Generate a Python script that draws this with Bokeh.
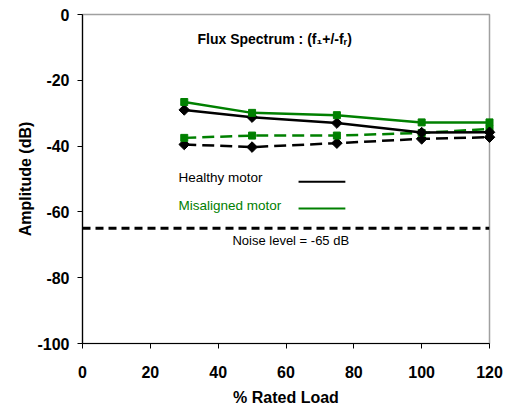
import math
from bokeh.plotting import figure
from bokeh.models import Label, Span, FixedTicker, ColumnDataSource, CustomJSTickFormatter
from bokeh.embed import file_html
from bokeh.resources import INLINE

# Load points (% of rated load)
load = [30, 50, 75, 100, 120]

# Amplitude of the (f1 +/- fr) flux components, dB
healthy_lower = [-29, -31.2, -33, -35.9, -35.8]
healthy_upper = [-39.5, -40.3, -39.1, -37.8, -37.3]
misaligned_lower = [-26.6, -29.9, -30.6, -32.8, -32.8]
misaligned_upper = [-37.5, -36.8, -36.8, -36.0, -34.8]

noise_level = -65

x_ticks = [0, 20, 40, 60, 80, 100, 120]
y_ticks = [0, -20, -40, -60, -80, -100]

FONT = "Liberation Sans"
GREEN = "#008000"

p = figure(width=506, height=409, output_backend="svg", toolbar_location=None,
           x_range=(0, 120), y_range=(-100, 0),
           min_border_left=82, min_border_right=17,
           min_border_top=14, min_border_bottom=66)

p.grid.visible = False
p.outline_line_color = "#a0a0a0"
p.outline_line_width = 1.5
p.background_fill_color = "white"
p.border_fill_color = "white"

plain_minus = CustomJSTickFormatter(code="return tick.toString();")

for ax in (p.xaxis[0], p.yaxis[0]):
    ax.formatter = plain_minus
    ax.major_label_text_font = FONT
    ax.major_label_text_font_style = "bold"
    ax.major_label_text_font_size = "16px"
    ax.major_label_text_color = "black"
    ax.axis_label_text_font = FONT
    ax.axis_label_text_font_style = "bold"
    ax.axis_label_text_font_size = "16px"
    ax.axis_label_text_color = "black"
    ax.axis_line_color = "black"
    ax.axis_line_width = 1.2
    ax.major_tick_line_color = "black"
    ax.major_tick_out = 5
    ax.major_tick_in = 0
    ax.minor_tick_line_color = None

p.xaxis.ticker = FixedTicker(ticks=x_ticks)
p.yaxis.ticker = FixedTicker(ticks=y_ticks)
p.xaxis.axis_label = "% Rated Load"
p.yaxis.axis_label = "Amplitude (dB)"
p.xaxis.major_label_standoff = 17
p.xaxis.axis_label_standoff = 8
p.yaxis.major_label_standoff = 8
p.yaxis.axis_label_standoff = 0

# Noise floor
p.add_layout(Span(location=noise_level, dimension="width", line_color="black",
                  line_width=3, line_dash="8 5"))

series = [
    (healthy_upper, "black", "dashed", "diamond"),
    (misaligned_upper, GREEN, "dashed", "square"),
    (healthy_lower, "black", "solid", "diamond"),
    (misaligned_lower, GREEN, "solid", "square"),
]
for vals, color, dash, marker in series:
    src = ColumnDataSource(dict(x=load, y=vals))
    p.line("x", "y", source=src, line_color=color, line_width=2.5,
           line_dash="12 6" if dash == "dashed" else "solid")
    if marker == "diamond":
        r = p.scatter("x", "y", source=src, marker="square", size=7.5,
                      angle=math.pi / 4, fill_color=color, line_color=color)
    else:
        r = p.scatter("x", "y", source=src, marker="square", size=7,
                      fill_color=color, line_color=color)
    r.level = "overlay"

# Title and in-plot legend
p.add_layout(Label(x=33.9, y=-7.3, text="Flux Spectrum : (f\u2081+/-f\u1d63)",
                   text_font=FONT, text_font_style="bold", text_font_size="14px",
                   text_baseline="middle", text_color="black"))

p.add_layout(Label(x=28.3, y=-49.5, text="Healthy motor", text_font=FONT,
                   text_font_size="13.5px", text_baseline="middle", text_color="black"))
p.add_layout(Label(x=28.3, y=-58.0, text="Misaligned motor", text_font=FONT,
                   text_font_size="13.5px", text_baseline="middle", text_color=GREEN))
p.line([63.7, 77.5], [-50.8, -50.8], line_color="black", line_width=2)
p.line([63.7, 77.5], [-59.0, -59.0], line_color=GREEN, line_width=2)

p.add_layout(Label(x=44.2, y=-68.7, text="Noise level = -65 dB", text_font=FONT,
                   text_font_size="13px", text_baseline="middle", text_color="black"))

open("out.html", "w").write(file_html(p, INLINE))
